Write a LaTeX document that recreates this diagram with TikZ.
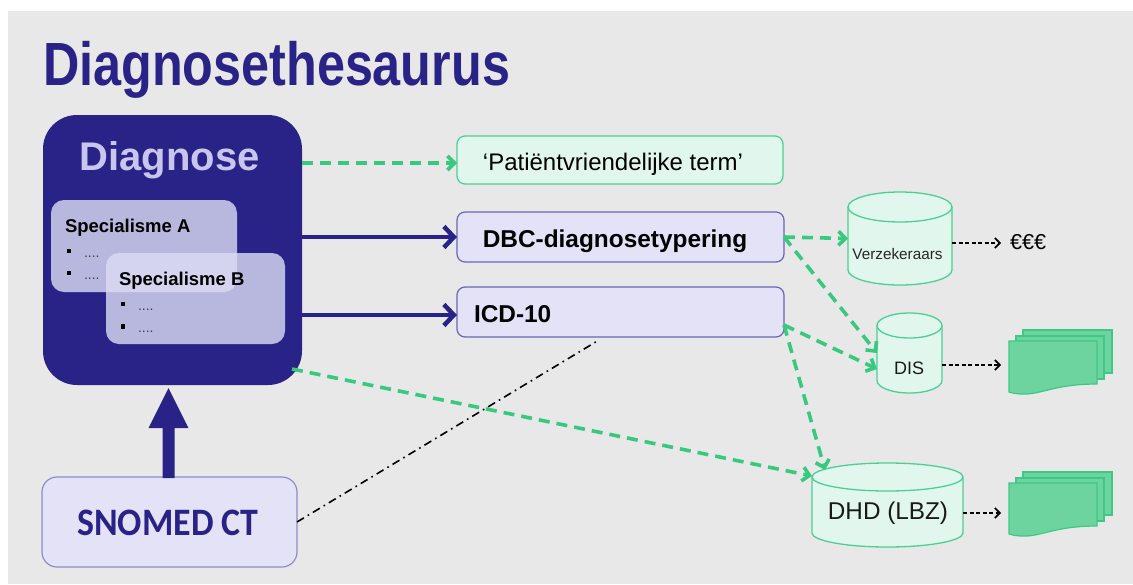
\documentclass[tikz,border=0pt]{standalone}
\usepackage{fontspec}
\setmainfont{Liberation Sans}
\newfontfamily\carlito{Carlito}
\usetikzlibrary{arrows.meta,calc}
\definecolor{navy}{HTML}{2A2387}
\definecolor{dlav}{HTML}{C8C6EE}
\definecolor{bggray}{HTML}{E8E8E8}
\definecolor{grn}{HTML}{38C97F}
\definecolor{mint}{HTML}{E1F7EE}
\definecolor{mintline}{HTML}{4BD092}
\definecolor{lavfill}{HTML}{E3E2F7}
\definecolor{lavline}{HTML}{6A65B5}
\definecolor{snoline}{HTML}{8F8BCB}
\definecolor{specfill}{HTML}{DCDCF4}
\definecolor{docfill}{HTML}{6DD4A0}
\definecolor{docline}{HTML}{3DC884}
\definecolor{dotgray}{HTML}{444444}
\newcommand\drawcyl[5]{%
  \pgfmathsetmacro\cylrx{(#2-#1)/2}%
  \filldraw[fill=mint,draw=mintline,line width=1.3pt] (#1,#3+#5) -- (#1,#4-#5)
    arc[start angle=180,end angle=360,x radius=\cylrx pt,y radius=#5pt]
    -- (#2,#3+#5)
    arc[start angle=0,end angle=180,x radius=\cylrx pt,y radius=#5pt] -- cycle;
  \draw[draw=mintline,line width=1.3pt] (#1,#3+#5)
    arc[start angle=180,end angle=360,x radius=\cylrx pt,y radius=#5pt];
}
\newcommand\drawdocs[1]{%
  \begin{scope}[shift={(0,#1)}]
  \filldraw[fill=docfill,draw=docline,line width=1.2pt] (1023,330) rectangle (1112,373);
  \filldraw[fill=docfill,draw=docline,line width=1.2pt] (1016,336) rectangle (1104,379);
  \filldraw[fill=docfill,draw=docline,line width=1.2pt] (1009,341) -- (1097,341) -- (1097,384)
    .. controls (1065,384) and (1050,390) .. (1035,393)
    .. controls (1025,395) and (1015,394) .. (1009,392) -- cycle;
  \end{scope}
}
\begin{document}
\begin{tikzpicture}[x=1pt,y=-1pt,
  box/.style={rectangle,inner sep=0pt,outer sep=0pt},
  inv/.style={rectangle,inner sep=0pt,outer sep=0pt,draw=none},
  txt/.style={inner sep=0pt,outer sep=0pt},
  bul/.style={rectangle,fill=black,minimum size=4.2pt,inner sep=0pt},
  grnarr/.style={draw=grn,line width=3.6pt,dash pattern=on 11pt off 7pt,
     -{Straight Barb[length=7pt,width=14pt]}},
  nvyarr/.style={draw=navy,line width=4.5pt,-{Straight Barb[length=10pt,width=21pt]}},
  blkarr/.style={draw=black,line width=1.7pt,dash pattern=on 4pt off 2.5pt,
     -{Straight Barb[length=5pt,width=10pt]}},
  dashdot/.style={draw=black,line width=1.6pt,dash pattern=on 8pt off 4.5pt on 1.6pt off 4.5pt}
]
\useasboundingbox (0,0) rectangle (1133,584);
\fill[white] (0,0) rectangle (1133,584);
\fill[bggray] (8,11) rectangle (1133,584);

% title
\node[txt,anchor=base west,text=navy] (title) at (43,85)
  {\scalebox{0.825}[1]{\fontsize{61}{61}\selectfont\bfseries Diagnosethesaurus}};

% Diagnose box
\node[box,fill=navy,rounded corners=34pt,minimum width=259pt,minimum height=270pt] (diag) at (172.5,250) {};
\node[txt,anchor=base,text=dlav] (diaglbl) at (169.5,170) {\fontsize{40}{40}\selectfont\bfseries Diagnose};

% Specialisme A
\node[box,fill=specfill,fill opacity=0.8,rounded corners=13pt,minimum width=186pt,minimum height=92pt] (specA) at (144,246) {};
\node[txt,anchor=base west] (specAt) at (65,232) {\fontsize{18.5}{18.5}\selectfont\bfseries Specialisme A};
\node[bul] (a1) at (69,251) {};
\node[bul] (a2) at (69,273) {};
\node[txt,anchor=base west,text=dotgray] (a1t) at (84,257) {\fontsize{14}{14}\selectfont ....};
\node[txt,anchor=base west,text=dotgray] (a2t) at (84,279) {\fontsize{14}{14}\selectfont ....};

% Specialisme B
\node[box,fill=specfill,fill opacity=0.8,rounded corners=13pt,minimum width=179pt,minimum height=91pt] (specB) at (195.5,298.5) {};
\node[txt,anchor=base west] (specBt) at (119,285) {\fontsize{18.5}{18.5}\selectfont\bfseries Specialisme B};
\node[bul] (b1) at (123,304) {};
\node[bul] (b2) at (123,326.5) {};
\node[txt,anchor=base west,text=dotgray] (b1t) at (138,310) {\fontsize{14}{14}\selectfont ....};
\node[txt,anchor=base west,text=dotgray] (b2t) at (138,332) {\fontsize{14}{14}\selectfont ....};

% right-hand boxes
\node[box,fill=mint,draw=mintline,line width=1.2pt,rounded corners=8pt,minimum width=326pt,minimum height=48pt] (pat) at (620,160) {};
\node[txt,anchor=base] (patt) at (613,170) {\fontsize{24}{24}\selectfont ‘Patiëntvriendelijke term’};

\node[box,fill=lavfill,draw=lavline,line width=1.2pt,rounded corners=8pt,minimum width=327pt,minimum height=50pt] (dbc) at (620.5,237) {};
\node[txt,anchor=base] (dbct) at (615,247) {\fontsize{24.4}{24.4}\selectfont\bfseries DBC-diagnosetypering};

\node[box,fill=lavfill,draw=lavline,line width=1.2pt,rounded corners=8pt,minimum width=327pt,minimum height=50pt] (icd) at (620.5,312) {};
\node[txt,anchor=base west] (icdt) at (474,322) {\fontsize{24.4}{24.4}\selectfont\bfseries ICD-10};

% SNOMED
\node[box,fill=lavfill,draw=snoline,line width=1.2pt,rounded corners=15pt,minimum width=255pt,minimum height=90pt] (snomed) at (169.5,522) {};
\node[txt,anchor=base,text=navy] (snomedt) at (168,535) {\scalebox{0.97}[1.05]{\carlito\fontsize{37}{37}\selectfont\bfseries SNOMED CT}};

% cylinders
\drawcyl{848}{952}{192}{285}{15}
\node[inv,minimum width=104pt,minimum height=93pt] (verz) at (900,238.5) {};
\node[txt,anchor=base,text=black!85] (verzt) at (897.5,259) {\fontsize{15.3}{15.3}\selectfont Verzekeraars};

\drawcyl{877}{942}{313}{393}{12.5}
\node[inv,minimum width=65pt,minimum height=80pt] (dis) at (909.5,353) {};
\node[txt,anchor=base,text=black!90] (dist) at (909,374) {\fontsize{18}{18}\selectfont DIS};

\drawcyl{812}{963}{463}{547}{14}
\node[inv,minimum width=151pt,minimum height=84pt] (dhd) at (887.5,505) {};
\node[txt,anchor=base,text=black!90] (dhdt) at (888,519) {\fontsize{24.3}{24.3}\selectfont DHD (LBZ)};

% euro and documents
\node[txt,anchor=base west] (euro) at (1010,249) {\fontsize{21.6}{21.6}\selectfont €€€};
\drawdocs{0}
\drawdocs{142}
\coordinate (doc1) at (1009,365);
\coordinate (doc2) at (1009,513);

% SNOMED up arrow
\fill[navy] ($(snomed.north)+(-7,1)$) -- ($(snomed.north)+(-7,-49)$) -- ($(snomed.north)+(-21,-49)$)
  -- ($(snomed.north)+(-1,-89)$) -- ($(snomed.north)+(19,-49)$) -- ($(snomed.north)+(5,-49)$)
  -- ($(snomed.north)+(5,1)$) -- cycle;

% navy arrows
\draw[nvyarr] (diag.east |- dbc.west) -- (dbc.west);
\draw[nvyarr] ($(diag.east |- icd.west)+(0,3)$) -- ($(icd.west)+(0,3)$);

% green dashed arrows
\draw[grnarr] ($(diag.east |- pat.west)+(0,3)$) -- ($(pat.west)+(0,3)$);
\draw[grnarr] (dbc.east) -- (verz.west);
\draw[grnarr] (dbc.east) -- (dis.west);
\draw[grnarr] ($(icd.east)+(0,13)$) -- ($(dis.west)+(0,16)$);
\draw[grnarr] ($(icd.east)+(0,13)$) -- ($(dhd.north west)+(13,7)$);
\draw[grnarr] ($(diag.south east)+(-10,-16)$) -- ($(dhd.north west)+(0,13)$);

% black dashed arrows
\draw[blkarr] (verz.east |- 0,243) -- (1001,243);
\draw[blkarr] (dis.east |- doc1) -- ([xshift=-8pt]doc1);
\draw[blkarr] (dhd.east |- doc2) -- ([xshift=-8pt]doc2);

% dash-dot line
\coordinate (dd) at (599,340);
\draw[dashdot] (snomed.east) -- (dd);
\end{tikzpicture}
\end{document}
